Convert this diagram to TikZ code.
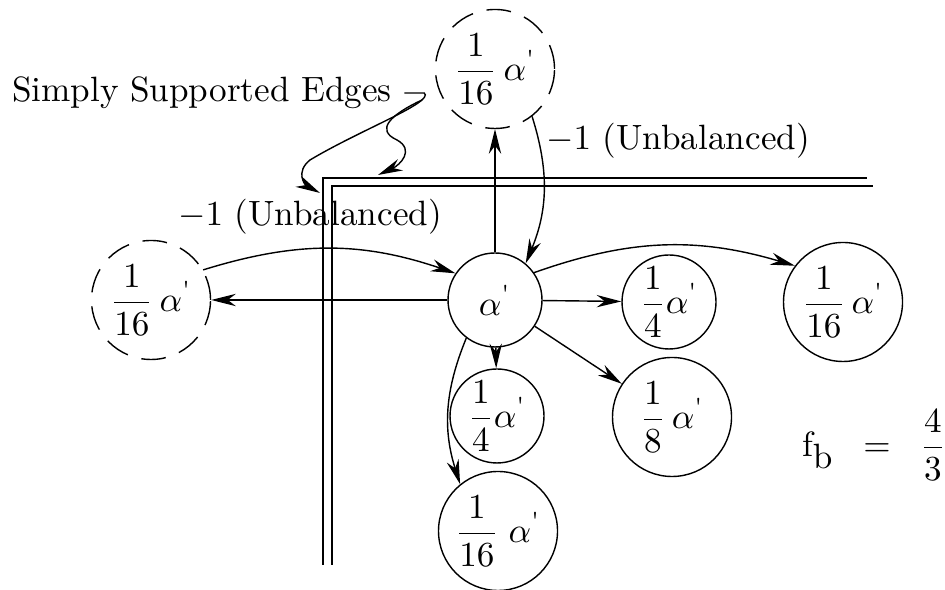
\documentclass[tikz,border=0pt]{standalone}
\usepackage{amsmath}
\usetikzlibrary{arrows.meta}
\begin{document}
\begin{tikzpicture}[
    cell/.style={circle, draw, inner sep=0pt, minimum size=0.94cm},
    bigcell/.style={circle, draw, inner sep=0pt, minimum size=1.19cm},
    ghost/.style={bigcell, dash pattern=on 7pt off 4pt},
    arr/.style={-{Stealth[length=7pt,width=3.5pt]}, thin}
]
    % 画布大小
    \useasboundingbox (0,0) rectangle (9.45,5.90);
    \def\ap{\alpha^{\textnormal{\textquotesingle}}}

    % 简支边（双线）
    \draw (3.23,0.25) -- (3.23,4.12) -- (8.67,4.12);
    \draw (3.32,0.25) -- (3.32,4.04) -- (8.73,4.04);

    % 节点
    \node[cell] (c) at (4.95,2.90) {$\ap$};
    \node[ghost] (top) at (4.95,5.21) {$\dfrac{1}{16}\,\ap$};
    \node[ghost] (left) at (1.51,2.90) {$\dfrac{1}{16}\,\ap$};
    \node[cell] (r1) at (6.69,2.88) {$\dfrac{1}{4}\ap$};
    \node[bigcell] (r2) at (8.43,2.88) {$\dfrac{1}{16}\,\ap$};
    \node[cell] (d1) at (4.97,1.74) {$\dfrac{1}{4}\ap$};
    \node[bigcell] (d2) at (6.72,1.73) {$\dfrac{1}{8}\,\ap$};
    \node[bigcell] (d3) at (4.98,0.59) {$\dfrac{1}{16}\;\ap$};

    % 文字
    \node (edgelabel) at (2.02,4.97) {Simply Supported Edges};
    \node (ubleft) at (3.10,3.73) {$-1$ (Unbalanced)};
    \node (ubtop) at (6.78,4.49) {$-1$ (Unbalanced)};
    \node (fb) at (8.74,1.45) {$\mathrm{f}_{\textstyle\mathrm{b}} \;\;=\;\; \dfrac{4}{3}$};

    % 指向简支边的箭头
    \coordinate (tipa) at (3.20,3.97);
    \coordinate (tipb) at (3.78,4.15);
    \draw[arr] (edgelabel.east) -- ++(0.2,0)
        .. controls (4.35,4.88) and (3.6,4.6) .. (3.1,4.3)
        .. controls (2.95,4.18) and (3.05,4.05) .. (tipa);
    \draw[arr] (4.22,4.9) .. controls (3.9,4.75) and (3.75,4.6) .. (3.97,4.5)
        .. controls (4.15,4.4) and (4.0,4.25) .. (tipb);

    % 直线箭头
    \draw[arr] (c) -- (top);
    \draw[arr] (c) -- (left);
    \draw[arr] (c) -- (r1);
    \draw[arr] (c) -- (d1);
    \draw[arr] (c) -- (d2);

    % 曲线箭头
    \draw[arr] (top.-52) to[bend left=20] (c.50);
    \draw[arr] (left.30) to[bend left=18] (c.146);
    \draw[arr] (c.35) to[bend left=18] (r2.143);
    \draw[arr] (c.233) to[bend right=20] (d3.129);

\end{tikzpicture}
\end{document}
